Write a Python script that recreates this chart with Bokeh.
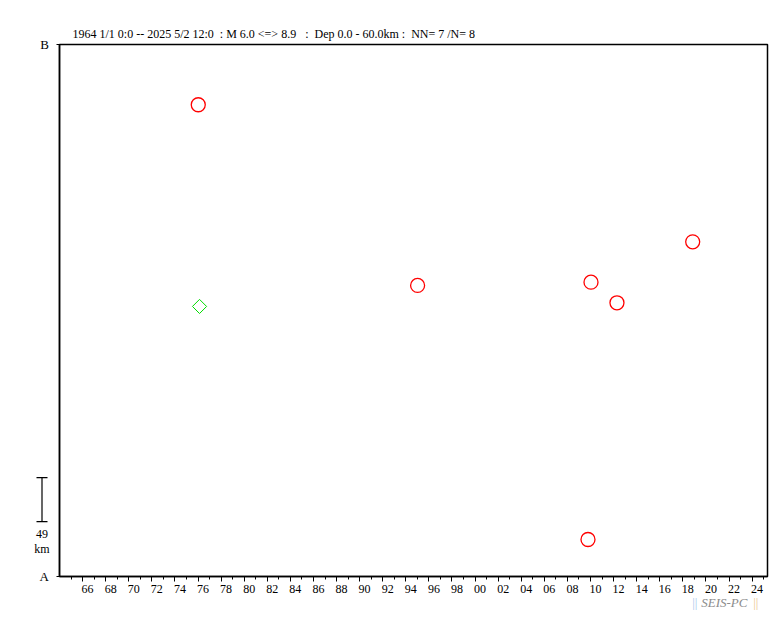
from bokeh.plotting import figure
from bokeh.models import FixedTicker, Whisker, TeeHead, Range1d, LinearAxis
from bokeh.layouts import row, column
from bokeh.core.properties import value
from bokeh.embed import file_html
from bokeh.resources import INLINE
import numpy as np

# ---- data ----
X_START, X_END = 1964.0, 2025.33          # time axis (years)
SECTION_KM = 592.4                         # length of section A-B (km)
circ_year = [1976.02, 1995.02, 2010.04, 2012.29, 2018.85, 2009.78]
circ_km = [525.3, 324.1, 327.7, 304.8, 372.7, 41.2]
dia_year = [1976.13]
dia_km = [300.7]
major_years = list(range(1966, 2025, 2))
minor_years = list(range(1965, 2026, 2))
tick_labels = [f"{y % 100:02d}" for y in major_years]
end_names = ["A", "B"]
NB = "\u00a0"
title_text = ("1964 1/1 0:0 -- 2025 5/2 12:0 " + NB + ": M 6.0 <=> 8.9 " + NB + NB
              + ": " + NB + "Dep 0.0 - 60.0km : " + NB + "NN= 7 /N= 8")
scale_km = 49
scale_from = 61.2
wm_parts = ["||", "SEIS-PC", "||"]

# ---- layout constants ----
FONT = "Liberation Serif"
FRAME_W, FRAME_H = 708, 532
TOP, BOTTOM = 44, 20
LEFT_W = 55
LABEL_SHIFT = 0.43   # tick labels sit a little right of their tick

main = figure(frame_width=FRAME_W, frame_height=FRAME_H,
              x_range=Range1d(X_START, X_END), y_range=Range1d(0, SECTION_KM),
              min_border_left=4, min_border_right=16, min_border_top=TOP,
              min_border_bottom=BOTTOM, frame_align=False,
              output_backend="svg", toolbar_location=None,
              background_fill_color="white", border_fill_color="white")
main.grid.visible = False
main.outline_line_color = "black"
main.outline_line_width = 1.5
main.outline_line_alpha = 1.0

# title
main.title.text = title_text
main.title.align = "left"
main.title.offset = 13
main.title.standoff = 7
main.title.text_font = FONT
main.title.text_font_size = "12px"
main.title.text_font_style = "normal"
main.title.text_color = "black"

# x axis: ticks
xa = main.xaxis[0]
xa.ticker = FixedTicker(ticks=major_years, minor_ticks=minor_years)
xa.major_label_overrides = {y: "" for y in major_years}
xa.major_label_text_font_size = "0px"
xa.major_label_standoff = 0
xa.axis_line_color = "black"
xa.axis_line_width = 1.5
xa.major_tick_line_color = "black"
xa.minor_tick_line_color = "black"
xa.major_tick_out = 5
xa.major_tick_in = 0
xa.minor_tick_out = 3
xa.minor_tick_in = 0

# x axis: labels (second axis, on a range shifted by LABEL_SHIFT)
main.extra_x_ranges = {"lab": Range1d(X_START - LABEL_SHIFT, X_END - LABEL_SHIFT)}
la = LinearAxis(x_range_name="lab",
                ticker=FixedTicker(ticks=major_years, minor_ticks=[]),
                major_label_overrides=dict(zip(major_years, tick_labels)))
la.axis_line_color = None
la.major_tick_line_color = None
la.minor_tick_line_color = None
la.major_tick_out = 0
la.major_tick_in = 0
la.minor_tick_out = 0
la.minor_tick_in = 0
la.major_label_standoff = 3
la.major_label_text_font = FONT
la.major_label_text_font_size = "12px"
la.major_label_text_color = "black"
main.add_layout(la, "below")

# y axis: small ticks at A and B (labels drawn in the side panel figure)
ya = main.yaxis[0]
ya.ticker = FixedTicker(ticks=[0, SECTION_KM], minor_ticks=[])
ya.major_label_overrides = {0: "", SECTION_KM: ""}
ya.major_label_text_font_size = "0px"
ya.major_label_standoff = 0
ya.axis_line_color = "black"
ya.axis_line_width = 1.5
ya.major_tick_out = 3
ya.major_tick_in = 0
ya.minor_tick_out = 0
ya.minor_tick_in = 0

# events
main.scatter(circ_year, circ_km, marker="circle", size=14, fill_color=None,
             line_color="#ff0000", line_width=1.3)
main.scatter(dia_year, dia_km, marker="square", angle=np.pi / 4, size=10, fill_color=None,
             line_color="#00dd00", line_width=1)

# ---- left side panel: A/B names and km scale bar, same km scale as main ----
kpp = SECTION_KM / FRAME_H
H_TOTAL = TOP + FRAME_H + BOTTOM
side = figure(width=LEFT_W, height=H_TOTAL,
              x_range=Range1d(0, LEFT_W),
              y_range=Range1d(-BOTTOM * kpp, SECTION_KM + TOP * kpp),
              x_axis_type=None, y_axis_type=None, frame_align=False,
              min_border_left=0, min_border_right=0, min_border_top=0, min_border_bottom=0,
              output_backend="svg", toolbar_location=None,
              background_fill_color="white", border_fill_color="white")
side.grid.visible = False
side.outline_line_color = None
side.text(x=[48.5, 48.5], y=[0, SECTION_KM], text=end_names,
          text_align="right", text_baseline="middle",
          text_font=value(FONT), text_font_size="13px", text_color="black")
side.add_layout(Whisker(base=41.5, lower=scale_from, upper=scale_from + scale_km,
                        dimension="height", line_color="black", line_width=1.2,
                        lower_head=TeeHead(size=11, line_width=1.2, line_color="black"),
                        upper_head=TeeHead(size=11, line_width=1.2, line_color="black")))
side.text(x=[41.5, 41.5], y=[scale_from - 12 * kpp, scale_from - 27 * kpp],
          text=[str(scale_km), "km"], text_align="center", text_baseline="middle",
          text_font=value(FONT), text_font_size="12px", text_color="black")

# ---- watermark strip ----
WM_H = 18
WM_W = LEFT_W + 4 + FRAME_W + 16
wm = figure(width=WM_W, height=WM_H,
            x_range=Range1d(0, WM_W), y_range=Range1d(0, WM_H),
            x_axis_type=None, y_axis_type=None, frame_align=False,
            min_border_left=0, min_border_right=0, min_border_top=0, min_border_bottom=0,
            output_backend="svg", toolbar_location=None,
            background_fill_color="white", border_fill_color="white")
wm.grid.visible = False
wm.outline_line_color = None
wm.text(x=[691.7], y=[12], text=[wm_parts[0]], text_baseline="middle",
        text_font=value(FONT), text_font_size="13px", text_color="#a8c8ec")
wm.text(x=[700.7], y=[12], text=[wm_parts[1]], text_baseline="middle",
        text_font=value(FONT), text_font_size="13px", text_font_style="italic",
        text_color="#8c8c8c")
wm.text(x=[752.7], y=[12], text=[wm_parts[2]], text_baseline="middle",
        text_font=value(FONT), text_font_size="13px", text_color="#ecc890")

layout = column(row(side, main, spacing=0), wm, spacing=0)
open("out.html", "w").write(file_html(layout, INLINE))
